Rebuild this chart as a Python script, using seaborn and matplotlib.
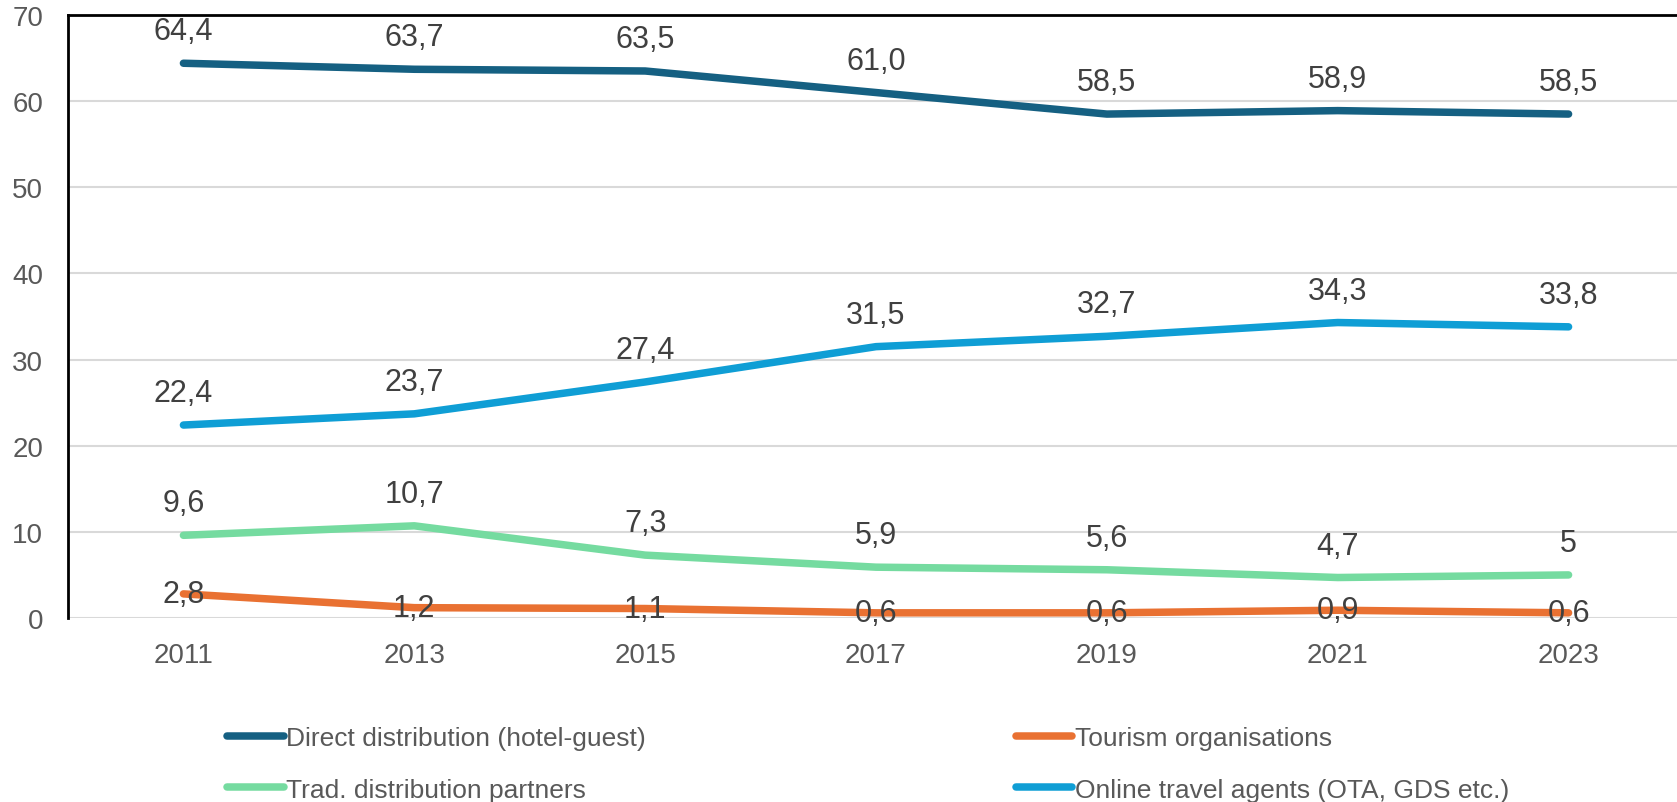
import numpy as np
import pandas as pd
import seaborn as sns
import matplotlib.pyplot as plt
from matplotlib.lines import Line2D

# Datos
years = [2011, 2013, 2015, 2017, 2019, 2021, 2023]
direct = [64.4, 63.7, 63.5, 61.0, 58.5, 58.9, 58.5]
tourism = [2.8, 1.2, 1.1, 0.6, 0.6, 0.9, 0.6]
trad = [9.6, 10.7, 7.3, 5.9, 5.6, 4.7, 5.0]
online = [22.4, 23.7, 27.4, 31.5, 32.7, 34.3, 33.8]

series_names = ["Direct distribution (hotel-guest)", "Tourism organisations",
                "Trad. distribution partners", "Online travel agents (OTA, GDS etc.)"]
series_values = [direct, tourism, trad, online]
colors = ["#156082", "#E97132", "#75DBA0", "#0F9ED5"]

# Etiquetas como en el original (coma decimal)
label_text = {
    series_names[0]: ["64,4", "63,7", "63,5", "61,0", "58,5", "58,9", "58,5"],
    series_names[1]: ["2,8", "1,2", "1,1", "0,6", "0,6", "0,9", "0,6"],
    series_names[2]: ["9,6", "10,7", "7,3", "5,9", "5,6", "4,7", "5"],
    series_names[3]: ["22,4", "23,7", "27,4", "31,5", "32,7", "34,3", "33,8"],
}

df = pd.DataFrame({
    "year": years * 4,
    "value": sum(series_values, []),
    "serie": [n for n in series_names for _ in years],
})

sns.set_style("white")
plt.rcParams["font.family"] = ["Liberation Sans", "DejaVu Sans"]

fig = plt.figure(figsize=(16.77, 8.03), dpi=100)
ax = fig.add_axes([68 / 1677, 1 - 619 / 803, (1684 - 68) / 1677, (619 - 16) / 803])

sns.lineplot(data=df, x="year", y="value", hue="serie", palette=dict(zip(series_names, colors)),
             hue_order=series_names, linewidth=5.4, ax=ax, legend=False, zorder=3)
for line in ax.get_lines():
    line.set_solid_capstyle("round")

# Etiquetas de datos
for name, vals in zip(series_names, series_values):
    for x, y, t in zip(years, vals, label_text[name]):
        if name == "Tourism organisations":
            ax.annotate(t, (x, y), ha="center", va="center", fontsize=22, color="#404040", zorder=4)
        else:
            ax.annotate(t, (x, y), xytext=(0, 23), textcoords="offset points",
                        ha="center", va="center", fontsize=22, color="#404040", zorder=4)

ax.set_xlim(2010, 2024)
ax.set_ylim(0, 70)
ax.set_xticks(years)
ax.set_yticks(range(0, 71, 10))
ax.tick_params(axis="both", labelsize=20, labelcolor="#595959", length=0)
ax.tick_params(axis="x", pad=17)
ax.tick_params(axis="y", pad=18)
ax.set_xlabel("")
ax.set_ylabel("")
ax.grid(axis="y", color="#D9D9D9", linewidth=1.5, zorder=0)
ax.set_axisbelow(True)

ax.spines["right"].set_visible(False)
ax.spines["bottom"].set_visible(False)
ax.spines["left"].set_color("black")
ax.spines["left"].set_linewidth(2)
ax.spines["top"].set_color("black")
ax.spines["top"].set_linewidth(2)

# Leyenda
handles = [Line2D([0], [0], color=c, linewidth=5.4, solid_capstyle="round") for c in colors]
order = [0, 2, 1, 3]
fig.legend([handles[i] for i in order], [series_names[i] for i in order],
           loc="upper left", bbox_to_anchor=(227 / 1677, 1 - 727 / 803), ncol=2,
           frameon=False, fontsize=19, labelcolor="#595959",
           handlelength=2.15, handletextpad=0.1, columnspacing=14.0, labelspacing=1.05,
           borderaxespad=0, borderpad=0)

plt.savefig("out.png", dpi=100)
